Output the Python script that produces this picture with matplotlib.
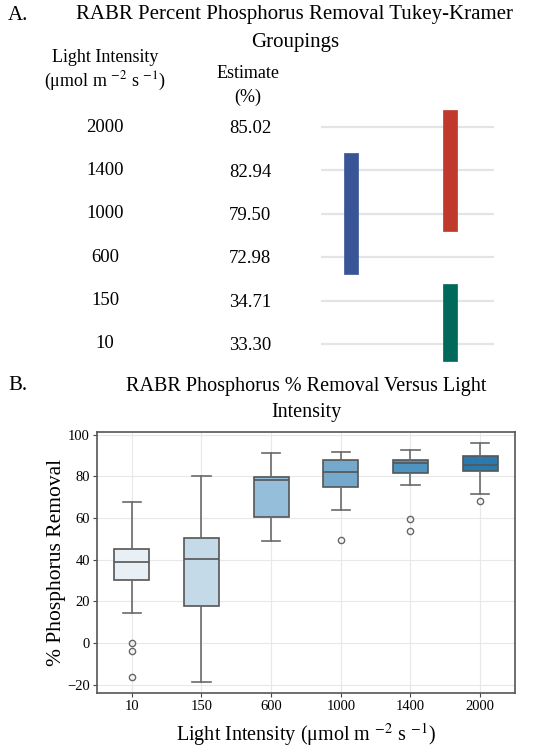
#!/usr/bin/env python3
# -*- coding: utf-8 -*-

import numpy as np
import matplotlib
matplotlib.use("Agg")
import matplotlib.pyplot as plt

plt.rcParams['font.family'] = ['Liberation Serif', 'DejaVu Serif']
plt.rcParams['mathtext.fontset'] = 'stix'

# ==============================================================================
# 0. 数据
# ==============================================================================
# A. Tukey-Kramer 分组
intensity_labels = ['2000', '1400', '1000', '600', '150', '10']
estimates = ['85.02', '82.94', '79.50', '72.98', '34.71', '33.30']
group_a = ['2000', '1400', '1000']          # 红
group_b = ['1400', '1000', '600']           # 蓝
group_c = ['150', '10']                     # 绿

# B. 箱线图统计量
light_levels = ['10', '150', '600', '1000', '1400', '2000']
whislo = [14.5, -18.6, 49.1, 63.9, 75.9, 71.6]
q1 = [30.0, 17.5, 60.3, 74.6, 81.5, 82.4]
medians = [38.9, 40.5, 78.0, 82.0, 86.3, 85.6]
q3 = [45.3, 50.2, 79.7, 87.9, 87.9, 89.9]
whishi = [67.8, 80.2, 90.9, 91.4, 92.5, 95.9]
outliers = [[0.0, -4.0, -16.3], [], [], [49.3], [59.6, 53.9], [68.1]]

box_colors = ['#e8eff5', '#c4dae8', '#94bed9', '#74a9cc', '#4f93c0', '#2a7aad']

W, H = 550, 750
fig = plt.figure(figsize=(5.5, 7.5), dpi=100)

def fx(px):
    return px / W

def fy(py):
    return 1 - py / H

# ==============================================================================
# 1. 面板 A
# ==============================================================================
fig.text(fx(8), fy(16), 'A.', fontsize=15, ha='left', va='center')
fig.text(fx(295), fy(15), 'RABR Percent Phosphorus Removal Tukey-Kramer',
         fontsize=15, ha='center', va='center')
fig.text(fx(295), fy(42), 'Groupings', fontsize=15, ha='center', va='center')

fig.text(fx(105), fy(58), 'Light Intensity', fontsize=13, ha='center', va='center')
fig.text(fx(105), fy(81), r'(μmol m $^{-2}$ s $^{-1}$)', fontsize=13,
         ha='center', va='center')
fig.text(fx(248), fy(73), 'Estimate', fontsize=13, ha='center', va='center')
fig.text(fx(248), fy(97), '(%)', fontsize=13, ha='center', va='center')

row_top, row_step = 127, 43.4
axA = fig.add_axes([0, fy(375), 1, 375 / H])
axA.set_xlim(0, W)
axA.set_ylim((375 - row_top) / row_step, -row_top / row_step)
axA.axis('off')

rows = np.arange(len(intensity_labels))
for r, lab, est in zip(rows, intensity_labels, estimates):
    axA.text(105, r, lab, fontsize=13.5, ha='center', va='center')
    axA.text(250, r + 0.04, est, fontsize=13.5, ha='center', va='center')
    axA.plot([321, 494], [r, r], color='#e3e4e6', lw=1.6, zorder=1,
             solid_capstyle='butt')

def draw_group(members, xc, color):
    idx = [intensity_labels.index(m) for m in members]
    top, bot = min(idx) - 0.39, max(idx) + 0.39
    axA.bar(xc, bot - top, bottom=top, width=14, color=color, zorder=3,
            edgecolor=color, linewidth=0.5)

draw_group(group_b, 351, '#3a5597')
draw_group(group_a, 450, '#bf3a2b')
draw_group(group_c, 450, '#00695c')

# ==============================================================================
# 2. 面板 B
# ==============================================================================
fig.text(fx(8), fy(385), 'B.', fontsize=15, ha='left', va='center')
fig.text(fx(306), fy(387), 'RABR Phosphorus % Removal Versus Light',
         fontsize=14.5, ha='center', va='center')
fig.text(fx(306), fy(413), 'Intensity', fontsize=14.5, ha='center', va='center')

axB = fig.add_axes([fx(97), fy(693), fx(515 - 97), (693 - 432) / H])

stats = []
for i, lab in enumerate(light_levels):
    stats.append(dict(label=lab, whislo=whislo[i], q1=q1[i], med=medians[i],
                      q3=q3[i], whishi=whishi[i], fliers=outliers[i]))

line_col = '#6a6a6a'
bp = axB.bxp(stats, positions=np.arange(len(light_levels)), widths=0.5,
             patch_artist=True, showfliers=True,
             boxprops=dict(edgecolor='#555555', linewidth=1.2),
             medianprops=dict(color='#555555', linewidth=1.2),
             whiskerprops=dict(color=line_col, linewidth=1.2),
             capprops=dict(color=line_col, linewidth=1.2),
             capwidths=0.26,
             flierprops=dict(marker='o', markersize=4.5, markerfacecolor='none',
                             markeredgecolor='#666666', markeredgewidth=1.0))
for patch, c in zip(bp['boxes'], box_colors):
    patch.set_facecolor(c)

axB.set_xlim(-0.5, len(light_levels) - 0.5)
axB.set_ylim(-24, 101.2)
axB.set_yticks([-20, 0, 20, 40, 60, 80, 100])
axB.set_yticklabels(['\u221220', '0', '20', '40', '60', '80', '100'])
axB.grid(True, color='#e8e8e8', linewidth=0.8)
axB.set_axisbelow(True)
axB.tick_params(labelsize=10.5, length=3, color='#444444', pad=2)
for s in axB.spines.values():
    s.set_color('#555555')
    s.set_linewidth(1.2)

axB.set_ylabel('% Phosphorus Removal', fontsize=15.5, labelpad=1)
axB.set_xlabel(r'Light Intensity (μmol m $^{-2}$ s $^{-1}$)', fontsize=14.5,
               labelpad=6)

fig.savefig('out.png', dpi=100)
